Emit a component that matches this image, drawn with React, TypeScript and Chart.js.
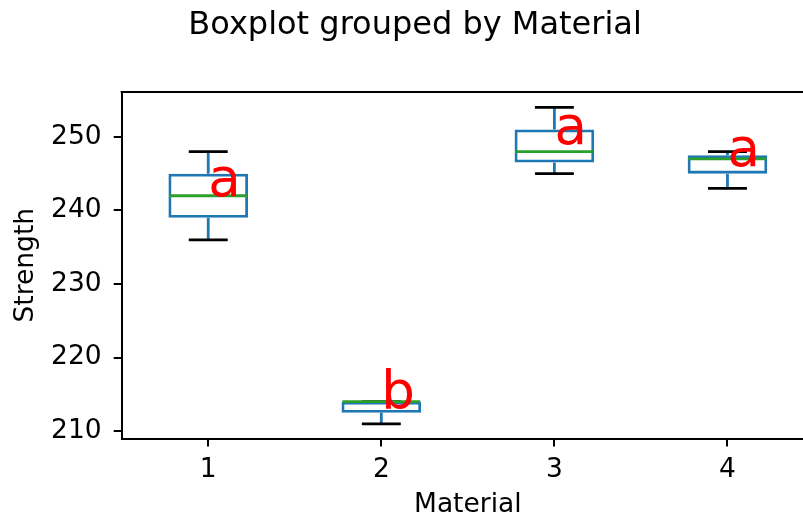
import React, { useEffect, useRef } from "react";
import { Chart, registerables } from "chart.js";

Chart.register(...registerables);

// ---- data ----
const positions = [1, 2, 3, 4];
const categories = ["1", "2", "3", "4"];
const whiskerLow = [236, 211, 245, 243];
const q1 = [239, 212.5, 246.5, 245];
const median = [242, 214, 248, 247];
const q3 = [245, 214, 251, 247.5];
const whiskerHigh = [248, 214, 254, 248];
const letters = ["a", "b", "a", "a"];
const letterY = [242, 213, 249, 246];
const yTicks = [210, 220, 230, 240, 250];

const BOX_HALF = 0.225;
const CAP_HALF = 0.1125;

const BLUE = "#1f77b4";
const GREEN = "#2ca02c";
const FONT = '"DejaVu Sans", "Liberation Sans", sans-serif';
const LW = 2.8;

function buildWhiskers() {
  const pts: any[] = [];
  positions.forEach((p, i) => {
    pts.push({ x: p, y: q1[i] }, { x: p, y: whiskerLow[i] }, { x: p, y: null });
    pts.push({ x: p, y: q3[i] }, { x: p, y: whiskerHigh[i] }, { x: p, y: null });
  });
  return pts;
}
function buildCaps() {
  const pts: any[] = [];
  positions.forEach((p, i) => {
    pts.push({ x: p - CAP_HALF, y: whiskerLow[i] }, { x: p + CAP_HALF, y: whiskerLow[i] }, { x: p, y: null });
    pts.push({ x: p - CAP_HALF, y: whiskerHigh[i] }, { x: p + CAP_HALF, y: whiskerHigh[i] }, { x: p, y: null });
  });
  return pts;
}
function buildMedians() {
  const pts: any[] = [];
  positions.forEach((p, i) => {
    pts.push({ x: p - BOX_HALF, y: median[i] }, { x: p + BOX_HALF, y: median[i] }, { x: p, y: null });
  });
  return pts;
}

const framePlugin = {
  id: "frame",
  afterDraw(chart: any) {
    const { ctx, chartArea } = chart;
    ctx.save();
    ctx.strokeStyle = "#000";
    ctx.lineWidth = 2;
    ctx.beginPath();
    ctx.moveTo(chartArea.left - 1, chartArea.top);
    ctx.lineTo(chartArea.right - 1, chartArea.top);
    ctx.lineTo(chartArea.right - 1, chartArea.bottom);
    ctx.stroke();
    ctx.restore();
  },
};

const lettersPlugin = {
  id: "letters",
  afterDatasetsDraw(chart: any) {
    const { ctx, scales } = chart;
    ctx.save();
    ctx.font = `53px ${FONT}`;
    ctx.fillStyle = "#ff0000";
    ctx.textAlign = "left";
    ctx.textBaseline = "alphabetic";
    positions.forEach((p, i) => {
      ctx.fillText(letters[i], scales.x.getPixelForValue(p), scales.y.getPixelForValue(letterY[i]));
    });
    ctx.restore();
  },
};

export default function App() {
  const ref = useRef<HTMLCanvasElement | null>(null);
  useEffect(() => {
    if (!ref.current) return;
    Chart.defaults.font.family = FONT;
    Chart.defaults.color = "#000";
    const chart = new Chart(ref.current, {
      type: "bar",
      data: {
        datasets: [
          {
            type: "bar",
            label: "box",
            data: positions.map((p, i) => ({ x: p, y: [q1[i], q3[i]] })) as any,
            backgroundColor: "rgba(0,0,0,0)",
            borderColor: BLUE,
            borderWidth: LW,
            borderSkipped: false,
            categoryPercentage: 1,
            barPercentage: 0.46,
            order: 3,
          } as any,
          {
            type: "line",
            label: "whiskers",
            data: buildWhiskers(),
            borderColor: BLUE,
            borderWidth: LW,
            pointRadius: 0,
            spanGaps: false,
            fill: false,
            order: 2,
          } as any,
          {
            type: "line",
            label: "caps",
            data: buildCaps(),
            borderColor: "#000",
            borderWidth: LW,
            pointRadius: 0,
            spanGaps: false,
            fill: false,
            order: 1,
          } as any,
          {
            type: "line",
            label: "medians",
            data: buildMedians(),
            borderColor: GREEN,
            borderWidth: LW,
            pointRadius: 0,
            spanGaps: false,
            fill: false,
            order: 0,
          } as any,
        ],
      },
      options: {
        responsive: false,
        animation: false,
        devicePixelRatio: 1,
        layout: { padding: { left: 16.2, right: 0, top: 0, bottom: 0 } },
        plugins: {
          legend: { display: false },
          tooltip: { enabled: false },
          title: {
            display: true,
            text: "Boxplot grouped by Material",
            color: "#000",
            font: { size: 32, weight: "normal", family: FONT, lineHeight: 1.2 },
            padding: { top: 6.3, bottom: 47.3 },
          },
        },
        scales: {
          x: {
            type: "linear",
            min: 0.5,
            max: 4.5,
            offset: false,
            afterBuildTicks: (s: any) => {
              s.ticks = positions.map((v) => ({ value: v }));
            },
            afterFit: (s: any) => {
              s.height = 84.5;
            },
            ticks: {
              callback: (v: any) => {
                const i = positions.indexOf(Number(v));
                return i >= 0 ? categories[i] : "";
              },
              font: { size: 26.5, family: FONT, lineHeight: 1.2 },
              color: "#000",
              padding: 8,
              maxRotation: 0,
              autoSkip: false,
            },
            grid: {
              display: true,
              offset: false,
              drawOnChartArea: false,
              drawTicks: true,
              tickLength: 8,
              color: "#000",
              lineWidth: 2,
            },
            border: { display: true, color: "#000", width: 2 },
            title: {
              display: true,
              text: "Material",
              color: "#000",
              font: { size: 26.5, family: FONT, lineHeight: 1.2 },
              padding: { top: 0, bottom: 2 },
            },
          },
          y: {
            type: "linear",
            min: 209.0,
            max: 256.1,
            afterBuildTicks: (s: any) => {
              s.ticks = yTicks.map((v) => ({ value: v }));
            },
            afterFit: (s: any) => {
              s.width = 105.5;
            },
            ticks: {
              font: { size: 26.5, family: FONT, lineHeight: 1.2 },
              color: "#000",
              padding: 12,
            },
            grid: {
              display: true,
              offset: false,
              drawOnChartArea: false,
              drawTicks: true,
              tickLength: 8,
              color: "#000",
              lineWidth: 2,
            },
            border: { display: true, color: "#000", width: 2 },
            title: {
              display: true,
              text: "Strength",
              color: "#000",
              font: { size: 26.5, family: FONT, lineHeight: 0.78 },
              padding: { top: 0, bottom: 0 },
            },
          },
        },
      } as any,
      plugins: [framePlugin, lettersPlugin],
    });
    return () => chart.destroy();
  }, []);

  return (
    <div
      style={{
        position: "fixed",
        left: 0,
        top: 0,
        width: 803,
        height: 523,
        overflow: "hidden",
        background: "#fff",
      }}
    >
      <canvas ref={ref} width={814} height={523} style={{ width: 814, height: 523, display: "block" }} />
    </div>
  );
}
